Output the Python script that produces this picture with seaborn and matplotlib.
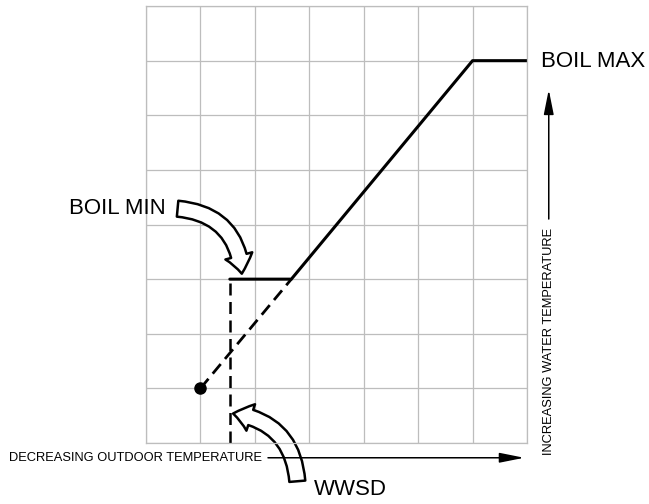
import matplotlib
matplotlib.use("Agg")
import matplotlib.pyplot as plt
import seaborn as sns
import pandas as pd
from matplotlib.patches import FancyArrowPatch

# Reset curve (grid units: 7 columns x 8 rows)
reset_x = [1.0, 2.67, 6.0, 7.0]
reset_y = [1.0, 3.0, 7.0, 7.0]
boil_min = 3.0
boil_min_x = 1.54      # WWSD position on the outdoor axis
boil_min_end = 2.67    # where the reset line meets BOIL MIN
boil_max = 7.0
design_pt = (1.0, 1.0)

sns.set_style("white")
plt.rcParams["font.family"] = ["Liberation Sans", "DejaVu Sans"]
plt.rcParams["text.color"] = "black"

fig = plt.figure(figsize=(6.49, 5.04), dpi=100)
ax = fig.add_axes([0.225, 0.121, 0.587, 0.867])

solid = pd.DataFrame({"x": [boil_min_x, boil_min_end] + reset_x[2:],
                      "y": [boil_min, boil_min] + reset_y[2:]})
dash_diag = pd.DataFrame({"x": reset_x[:2], "y": reset_y[:2]})
dash_vert = pd.DataFrame({"x": [boil_min_x, boil_min_x], "y": [0, boil_min]})

sns.lineplot(data=solid, x="x", y="y", color="black", lw=2.2, ax=ax,
             sort=False, estimator=None)
sns.lineplot(data=dash_diag, x="x", y="y", color="black", lw=2.0, ax=ax,
             sort=False, estimator=None, linestyle=(0, (4.5, 2.4)))
sns.lineplot(data=dash_vert, x="x", y="y", color="black", lw=1.8, ax=ax,
             sort=False, estimator=None, linestyle=(0, (4.8, 2.6)))
ax.plot(*design_pt, "o", color="black", ms=8)

ax.set_xlim(0, 7)
ax.set_ylim(0, 8)
ax.set_xticks(range(8))
ax.set_yticks(range(9))
ax.set_xticklabels([])
ax.set_yticklabels([])
ax.tick_params(length=0)
ax.grid(True, color="#bdbdbd", lw=0.9)
ax.set_axisbelow(True)
for s in ax.spines.values():
    s.set_color("#bdbdbd")
    s.set_linewidth(0.9)
ax.set_xlabel("")
ax.set_ylabel("")

# labels
ax.text(7.26, 6.98, "BOIL MAX", fontsize=16, va="center", ha="left", clip_on=False)
ax.text(0.36, 4.29, "BOIL MIN", fontsize=16, va="center", ha="right", clip_on=False)
ax.text(3.75, -0.86, "WWSD", fontsize=16, va="center", ha="center", clip_on=False)
ax.text(2.13, -0.27, "DECREASING OUTDOOR TEMPERATURE", fontsize=9.3,
        va="center", ha="right", clip_on=False)
ax.text(7.4, 3.94, "INCREASING WATER TEMPERATURE", fontsize=9.3,
        va="top", ha="center", rotation=90, clip_on=False)

# axis arrows
ax.annotate("", xy=(7.0, -0.27), xytext=(2.19, -0.27), annotation_clip=False,
            arrowprops=dict(arrowstyle="-|>,head_length=1.5,head_width=0.3",
                            color="black", lw=1.1))
ax.annotate("", xy=(7.4, 6.52), xytext=(7.4, 4.05), annotation_clip=False,
            arrowprops=dict(arrowstyle="-|>,head_length=1.5,head_width=0.3",
                            color="black", lw=1.1))

# curved block arrows
style = "simple,head_length=1.3,head_width=2.0,tail_width=1.15"
a1 = FancyArrowPatch((0.58, 4.29), (1.76, 3.1), arrowstyle=style,
                     connectionstyle="arc3,rad=-0.42", mutation_scale=10,
                     facecolor="white", edgecolor="black", lw=1.8,
                     clip_on=False, shrinkA=0, shrinkB=0)
a2 = FancyArrowPatch((2.78, -0.7), (1.6, 0.54), arrowstyle=style,
                     connectionstyle="arc3,rad=0.4", mutation_scale=10,
                     facecolor="white", edgecolor="black", lw=1.8,
                     clip_on=False, shrinkA=0, shrinkB=0)
ax.add_patch(a1)
ax.add_patch(a2)

fig.savefig("out.png", dpi=100)
